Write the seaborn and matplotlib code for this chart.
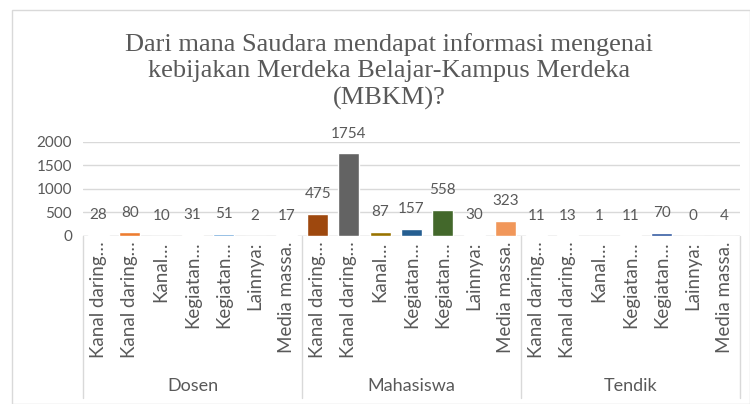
import matplotlib
matplotlib.use("Agg")
import matplotlib.pyplot as plt
import seaborn as sns
import pandas as pd
from matplotlib.patches import Rectangle
from matplotlib.lines import Line2D

groups = ["Dosen", "Mahasiswa", "Tendik"]
categories = ["Kanal daring…", "Kanal daring…", "Kanal…", "Kegiatan…",
              "Kegiatan…", "Lainnya:", "Media massa."]
dosen = [28, 80, 10, 31, 51, 2, 17]
mahasiswa = [475, 1754, 87, 157, 558, 30, 323]
tendik = [11, 13, 1, 11, 70, 0, 4]
bar_colors = ["#4472C4", "#ED7D31", "#A5A5A5", "#FFC000", "#5B9BD5", "#70AD47", "#264478",
              "#9E480E", "#636363", "#997300", "#255E91", "#43682B", "#698ED0", "#F1975A",
              "#B7B7B7", "#FFCD33", "#7CAFDD", "#8CC168", "#335AA1", "#D26012", "#848484"]
title = "Dari mana Saudara mendapat informasi mengenai\nkebijakan Merdeka Belajar-Kampus Merdeka\n(MBKM)?"

rows = []
for g, vals in zip(groups, [dosen, mahasiswa, tendik]):
    for i, (c, v) in enumerate(zip(categories, vals)):
        rows.append({"key": f"{g}_{i}", "group": g, "category": c, "value": v})
df = pd.DataFrame(rows)

sns.set_theme(style="white")
plt.rcParams["font.family"] = ["Lato", "DejaVu Sans"]
txt = "#595959"
grid = "#D9D9D9"

W, H = 750, 404
fig = plt.figure(figsize=(W / 100, H / 100), dpi=100)
ax0, ay0, ax1, ay1 = 83, 236, 740, 141.7
ax = fig.add_axes([ax0 / W, 1 - ay0 / H, (ax1 - ax0) / W, (ay0 - ay1) / H])

sns.barplot(data=df, x="key", y="value", hue="key", palette=bar_colors,
            legend=False, width=0.67, ax=ax, saturation=1)
ax.set_ylim(0, 2000)
ax.set_xlim(-0.5, len(df) - 0.5)
ax.set_yticks([0, 500, 1000, 1500, 2000])
ax.yaxis.grid(True, color=grid, linewidth=1)
ax.set_axisbelow(True)
for s in ax.spines.values():
    s.set_visible(False)
ax.tick_params(axis="y", length=0, labelsize=11, labelcolor=txt, pad=8)
ax.set_xticks(range(len(df)))
ax.set_xticklabels(df["category"], rotation=90, fontsize=13.5, color=txt, va="top")
ax.tick_params(axis="x", length=0, pad=4)
ax.set_xlabel("")
ax.set_ylabel("")
for c in ax.containers:
    ax.bar_label(c, padding=9, fontsize=11, color=txt)

# axis line and group separators
ax.axhline(0, color=grid, linewidth=1, zorder=0.5)
sep_bottom = -(398 - ay0) / (ay0 - ay1)
for xpos in [-0.5, 6.5, 13.5, 20.5]:
    ax.add_line(Line2D([xpos, xpos], [0, sep_bottom], transform=ax.get_xaxis_transform(),
                       color=grid, linewidth=1, clip_on=False))
grp_y = -(386 - ay0) / (ay0 - ay1)
for gi, g in enumerate(groups):
    ax.text(gi * 7 + 3, grp_y, g, transform=ax.get_xaxis_transform(),
            ha="center", va="center", fontsize=13, color=txt)

fig.text(389 / W, 1 - 33 / H, title, ha="center", va="top", fontsize=19,
         family="Liberation Serif", color=txt, linespacing=1.25,
         transform=fig.transFigure)

fig.patches.append(Rectangle((12 / W, 0.5 / H), (W - 12.5) / W, (H - 10.5) / H,
                             transform=fig.transFigure, fill=False,
                             edgecolor="#D9D9D9", linewidth=1))
fig.savefig("out.png", dpi=100)
